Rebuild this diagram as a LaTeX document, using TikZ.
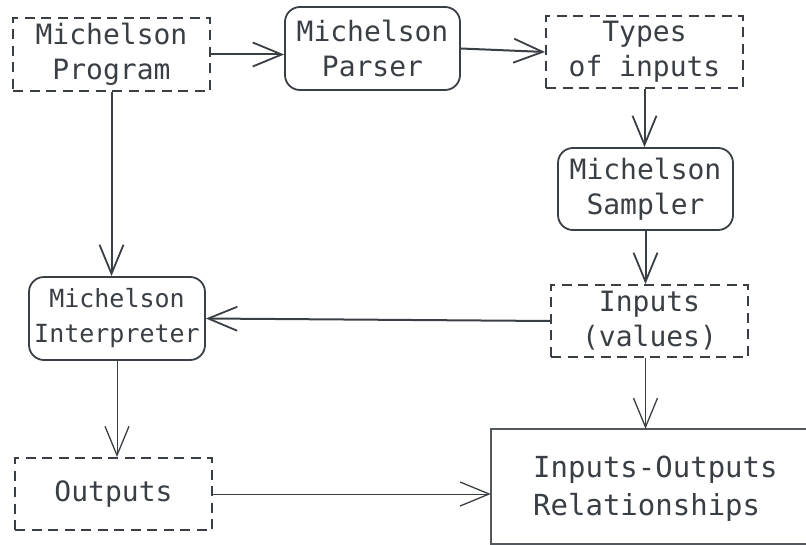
\documentclass[tikz,border=0pt]{standalone}
\usepackage{fontspec}
\newfontfamily\diagmono{DejaVu Sans Mono}
\usetikzlibrary{arrows.meta}
\definecolor{ink}{HTML}{3A3F45}
\definecolor{lightink}{HTML}{53585F}
\tikzset{
  box/.style={draw=ink, text=ink, align=center, inner sep=0pt,
    font=\diagmono\fontsize{28}{35}\selectfont},
  dashbox/.style={box, line width=2pt, dash pattern=on 10pt off 6.5pt},
  roundbox/.style={box, line width=1.8pt, rounded corners=15pt},
  plainbox/.style={box, draw=none,
    font=\diagmono\fontsize{29}{38}\selectfont},
  plainedge/.style={draw=lightink, line width=1.5pt},
  conn/.style={draw=ink, line width=2pt,
    -{Straight Barb[length=29pt, width=24pt, line width=1.8pt]}},
  thinconn/.style={draw=ink, line width=1pt,
    -{Straight Barb[length=29pt, width=24pt, line width=1.3pt]}}
}
\begin{document}
\begin{tikzpicture}[x=1pt, y=-1pt]
\useasboundingbox (0,0) rectangle (806,545);
\node[plainbox, minimum width=330pt, minimum height=115pt] (io) at (656,486.5) {};
\draw[plainedge] (io.north east) -- (io.north west) -- (io.south west) -- (io.south east);
\node[dashbox, minimum width=197pt, minimum height=73pt] (prog) at (111.5,54.5) {Michelson\\Program};
\node[roundbox, minimum width=175pt, minimum height=83pt] (parser) at (372.5,48.5) {Michelson\\Parser};
\node[dashbox, minimum width=197pt, minimum height=72pt] (types) at (644.5,52) {Types\\of inputs};
\node[roundbox, minimum width=175pt, minimum height=82pt] (sampler) at (645.5,189) {Michelson\\Sampler};
\node[dashbox, minimum width=197pt, minimum height=72pt] (inputs) at (649.5,321) {Inputs\\(values)};
\node[roundbox, minimum width=176pt, minimum height=83pt,
      font=\diagmono\fontsize{25}{35}\selectfont] (interp) at (117,318.5) {Michelson\\Interpreter};
\node[dashbox, minimum width=197pt, minimum height=72pt] (outputs) at (113.5,494) {Outputs};
\node[plainbox, align=left, anchor=west] (iotext) at (533,489) {Inputs-Outputs\\Relationships};

\draw[conn] (prog) -- (prog -| parser.west);
\draw[conn] (parser.east) -- (types.west);
\draw[conn] (prog.south) -- (interp.north -| prog.south);
\draw[conn] (types.south) -- (sampler.north -| types.south);
\draw[conn] (sampler.south) -- (inputs.north -| sampler.south);
\draw[conn] (inputs.west) -- (interp.east);
\draw[thinconn] (interp.south) -- (outputs.north -| interp.south);
\draw[thinconn] (inputs.south -| sampler.south) -- (io.north -| sampler.south);
\draw[thinconn] (outputs.east) -- (outputs.east -| io.west);
\end{tikzpicture}
\end{document}
